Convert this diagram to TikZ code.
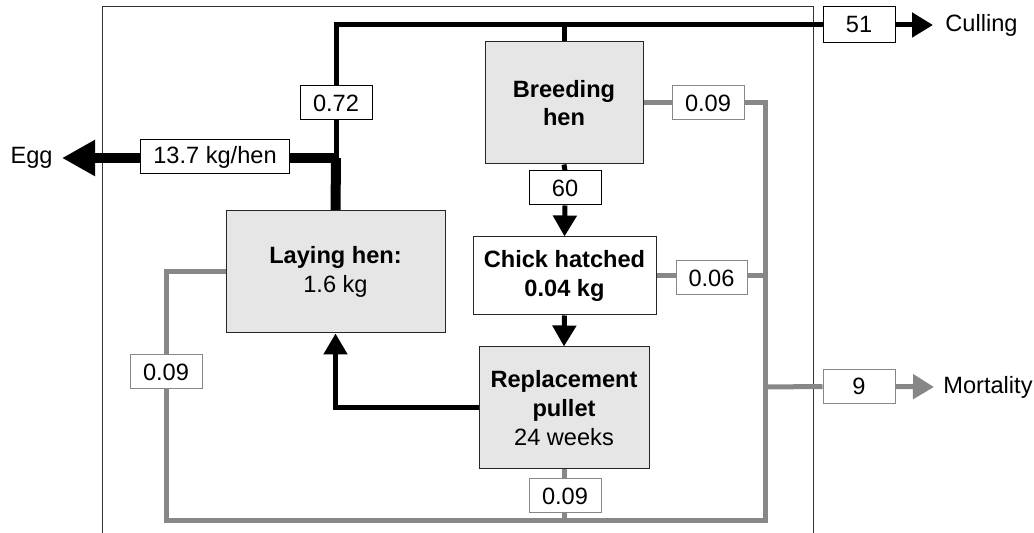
\documentclass[tikz,border=0pt]{standalone}
\usepackage{fontspec}
\setmainfont{Liberation Sans}
\usetikzlibrary{arrows.meta,backgrounds}
\definecolor{lgray}{HTML}{E6E6E6}
\definecolor{lnk}{HTML}{878787}
\begin{document}
\begin{tikzpicture}[x=0.5pt,y=-0.5pt, font=\fontsize{11.8}{14.4}\selectfont,
  proc/.style={draw=black!85, line width=0.5pt, fill=lgray, align=center, inner sep=0pt},
  lab/.style={draw=black, line width=0.5pt, fill=white, inner sep=0pt, minimum width=36pt, minimum height=17pt},
  glab/.style={lab, draw=lnk},
  blk/.style={line width=2.5pt, draw=black},
  gry/.style={line width=2.5pt, draw=lnk},
  tip/.style={-{Triangle[length=10.5pt,width=11.5pt]}},
  ]
\useasboundingbox (0,0) rectangle (1034,533);
% process boxes
\node[proc, minimum width=109.5pt, minimum height=61pt] (lay) at (335.5,272) {\textbf{Laying hen:}\\1.6 kg};
\node[proc, minimum width=79pt, minimum height=61pt] (breed) at (564,103) {\textbf{Breeding}\\\textbf{hen}};
\node[proc, fill=white, minimum width=91.5pt, minimum height=39pt] (chick) at (564.5,276) {\textbf{Chick hatched}\\\textbf{0.04 kg}};
\node[proc, minimum width=85pt, minimum height=61pt] (repl) at (564,408) {\textbf{Replacement}\\\textbf{pullet}\\24 weeks};
% labels
\node[lab] (l072) at (336,103) {0.72};
\node[lab, minimum width=74.5pt] (l137) at (215,157) {13.7 kg/hen};
\node[lab] (l60) at (565,188) {60};
\node[lab, minimum height=18pt] (l51) at (859,25) {51};
\node[glab] (l09a) at (708,103) {0.09};
\node[glab, minimum width=35.5pt] (l06) at (711.5,278) {0.06};
\node[glab] (l9) at (859,386.5) {9};
\node[glab] (l09b) at (166,372) {0.09};
\node[glab] (l09c) at (565,496) {0.09};
\node[anchor=east, inner sep=0pt] (egg) at (53,158) {Egg};
\node[anchor=west, inner sep=0pt] (cull) at (945,25) {Culling};
\node[anchor=west, inner sep=0pt] (mort) at (943,387) {Mortality};
% junctions
\coordinate (jt) at (336,25);
\coordinate (ej) at (336,158);
\coordinate (eggtip) at (62,158);
\coordinate (culltip) at (933,25);
\coordinate (morttip) at (934,387);
\coordinate (gr) at (765,103);
\coordinate (gbr) at (765,521);
\coordinate (gbl) at (166,521);
\coordinate (gm) at (765,387);
\begin{scope}[on background layer]
  \draw[line width=0.5pt, black!80] (102,540) -- (102,7) -- (813,7) -- (813,540);
  \draw[blk] (ej) -- (jt) -- (l51.west);
  \draw[blk] (breed.north) -- (breed.north |- jt);
  \draw[line width=5pt] (lay.north) -- (ej);
  \draw[line width=5pt, -{Triangle[length=16.5pt,width=17pt]}] (ej) -- (eggtip);
  \draw[blk, -{Triangle[length=10.5pt,width=12pt]}] (l51.east) -- (culltip);
  \draw[blk] (breed.south) -- (l60.north);
  \draw[blk, tip] (l60.south) -- (chick.north);
  \draw[blk, tip] (chick.south) -- (repl.north);
  \draw[blk, tip] (repl.west) -| (lay.south);
  \draw[gry] (breed.east) -- (gr) -- (gbr) -- (gbl) -- (gbl |- lay.west) -- (lay.west);
  \draw[gry] (chick.east) -- (chick.east -| gr);
  \draw[gry] (repl.south) -- (repl.south |- gbr);
  \draw[gry] (gm) -- (l9.west);
  \draw[gry, -{Triangle[length=10.5pt,width=12pt]}] (l9.east) -- (morttip);
\end{scope}
\end{tikzpicture}
\end{document}
